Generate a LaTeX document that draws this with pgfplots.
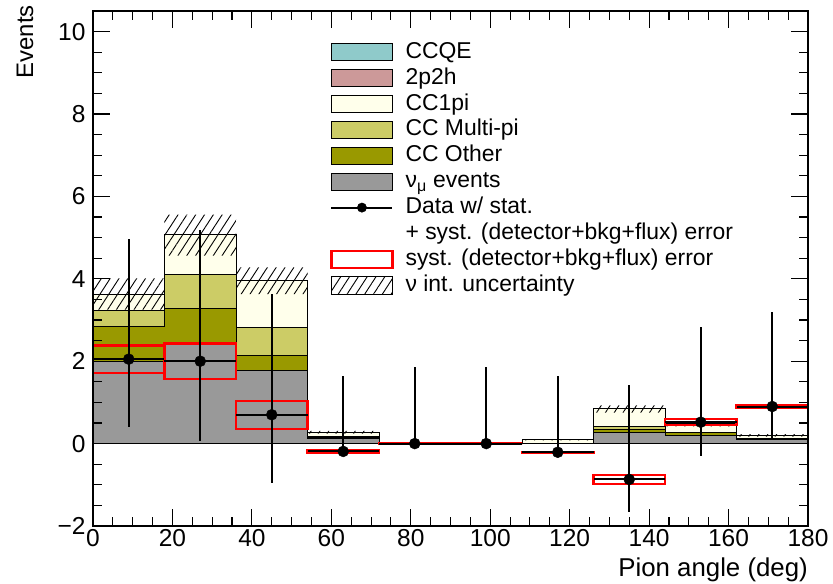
\documentclass[border=0pt]{standalone}
\usepackage{fontspec}
\setmainfont{Liberation Sans}
\usepackage{pgfplots}
\pgfplotsset{compat=1.18}
\usepackage{pgfplotstable}
\usetikzlibrary{patterns.meta}

\definecolor{ccqe}{RGB}{143,202,202}
\definecolor{twoptwoh}{RGB}{204,153,153}
\definecolor{ccpi}{RGB}{255,255,235}
\definecolor{ccmulti}{RGB}{204,204,102}
\definecolor{ccother}{RGB}{153,153,0}
\definecolor{numu}{RGB}{153,153,153}

\tikzset{hatch/.style={pattern={Lines[angle=57,distance=7.4bp,line width=0.9bp]}}}
\pgfplotsset{boxlegend/.style={legend image code/.code={\draw[##1] (0bp,-8.5bp) rectangle (61bp,8.5bp);}}}

% cumulative stack tops, left bin edges (last row repeats the last bin)
\pgfplotstableread{
xl gray ccother ccmulti ccpi
0   2.00 2.84 3.24 3.63
18  2.42 3.27 4.10 5.07
36  1.77 2.14 2.81 3.97
54  0.12 0.15 0.18 0.28
72  0    0    0    0
90  0    0    0    0
108 0.01 0.01 0.01 0.09
126 0.26 0.34 0.42 0.84
144 0.19 0.27 0.27 0.48
162 0.10 0.12 0.13 0.20
180 0.10 0.12 0.13 0.20
}\stack

\pgfplotstableread{
x   y     ex  eyp  eym
9   2.05  9   2.92 1.65
27  2.00  9   3.19 1.94
45  0.70  9   2.93 1.65
63  -0.19 9   1.84 0
81  0     9   1.85 0
99  0     9   1.85 0
117 -0.21 9   1.84 0
135 -0.87 9   2.29 0.80
153 0.52  9   2.30 0.81
171 0.90  9   2.30 0.79
}\data

\begin{document}
\begin{tikzpicture}
\begin{axis}[
  at={(0,0)}, anchor=south west,
  scale only axis, width=715bp, height=515bp,
  xmin=0, xmax=180, ymin=-2, ymax=10.5,
  xtick={0,20,...,180},
  ytick={-2,0,...,10}, yticklabels={−2,0,2,4,6,8,10},
  minor x tick num=3, minor y tick num=3,
  tick align=inside,
  major tick length=17bp, minor tick length=9bp,
  tick style={black, line width=1.1bp},
  axis line style={line width=1.3bp},
  axis on top,
  /pgf/number format/assume math mode=true,
  ticklabel style={font=\fontsize{24.6}{28}\selectfont},
  yticklabel style={xshift=-4bp},
  xlabel={Pion angle (deg)}, ylabel={Events},
  xlabel style={font=\fontsize{25.9}{30}\selectfont, at={(axis description cs:1,-0.0854)}, anchor=east, inner sep=0pt},
  ylabel style={font=\fontsize{24}{28}\selectfont, at={(axis description cs:-0.0951,1.0117)}, anchor=east, inner sep=0pt},
  legend cell align=left,
  legend style={at={(axis description cs:0.3275,0.9456)}, anchor=north west, draw=none, fill=none,
    font=\fontsize{23}{27}\selectfont, row sep=3.9bp, column sep=12bp,
    nodes={inner sep=0pt, text height=17bp, text depth=5bp}},
]
% legend
\addlegendimage{boxlegend, fill=ccqe, draw=black, line width=0.9bp}
\addlegendentry{CCQE}
\addlegendimage{boxlegend, fill=twoptwoh, draw=black, line width=0.9bp}
\addlegendentry{2p2h}
\addlegendimage{boxlegend, fill=ccpi, draw=black, line width=0.9bp}
\addlegendentry{CC1pi}
\addlegendimage{boxlegend, fill=ccmulti, draw=black, line width=0.9bp}
\addlegendentry{CC Multi-pi}
\addlegendimage{boxlegend, fill=ccother, draw=black, line width=0.9bp}
\addlegendentry{CC Other}
\addlegendimage{boxlegend, fill=numu, draw=black, line width=0.9bp}
\addlegendentry{ν\textsubscript{μ} events}
\addlegendimage{legend image code/.code={\draw[black, line width=2bp] (0bp,0bp) -- (61bp,0bp); \fill[black] (30.5bp,0bp) circle (4.7bp);}}
\addlegendentry{Data w/ stat.}
\addlegendimage{empty legend}
\addlegendentry{+ syst. (detector+bkg+flux) error}
\addlegendimage{boxlegend, draw=red, fill=none, line width=2.2bp}
\addlegendentry{syst. (detector+bkg+flux) error}
\addlegendimage{legend image code/.code={\fill[hatch] (0bp,-9bp) rectangle (61bp,9bp);}}
\addlegendentry{ν int. uncertainty}

% stacked histogram (cumulative tops, drawn from top layer down)
\addplot[forget plot, const plot, fill=ccqe, draw=black, line width=1bp] table[x=xl, y=ccpi]{\stack} \closedcycle;
\addplot[forget plot, const plot, fill=twoptwoh, draw=black, line width=1bp] table[x=xl, y=ccpi]{\stack} \closedcycle;
\addplot[forget plot, const plot, fill=ccpi, draw=black, line width=1bp] table[x=xl, y=ccpi]{\stack} \closedcycle;
\addplot[forget plot, const plot, fill=ccmulti, draw=black, line width=1bp] table[x=xl, y=ccmulti]{\stack} \closedcycle;
\addplot[forget plot, const plot, fill=ccother, draw=black, line width=1bp] table[x=xl, y=ccother]{\stack} \closedcycle;
\addplot[forget plot, const plot, fill=numu, draw=black, line width=1bp] table[x=xl, y=gray]{\stack} \closedcycle;

% nu interaction uncertainty (hatched)
\addplot[forget plot, draw=none, hatch, unbounded coords=jump] coordinates {
 (0,3.25) (18,3.25) (18,4.01) (0,4.01) (0,nan)
 (18,4.56) (36,4.56) (36,5.56) (18,5.56) (18,nan)
 (36,3.63) (54,3.63) (54,4.28) (36,4.28) (36,nan)
 (54,0.24) (72,0.24) (72,0.31) (54,0.31) (54,nan)
 (108,0.08) (126,0.08) (126,0.10) (108,0.10) (108,nan)
 (126,0.75) (144,0.75) (144,0.93) (126,0.93) (126,nan)
 (144,0.42) (162,0.42) (162,0.53) (144,0.53) (144,nan)
 (162,0.17) (180,0.17) (180,0.23) (162,0.23)
};

% systematic boxes
\addplot[forget plot, red, line width=2.2bp, line cap=rect, unbounded coords=jump] coordinates {
 (0,1.72) (18,1.72) (18,2.38) (0,2.38) (0,1.72) (0,nan)
 (18,1.57) (36,1.57) (36,2.43) (18,2.43) (18,1.57) (18,nan)
 (36,0.36) (54,0.36) (54,1.03) (36,1.03) (36,0.36) (36,nan)
 (54,-0.22) (72,-0.22) (72,-0.16) (54,-0.16) (54,-0.22) (54,nan)
 (72,0) (90,0) (90,0) (72,0) (72,0) (72,nan)
 (90,0) (108,0) (108,0) (90,0) (90,0) (90,nan)
 (108,-0.22) (126,-0.22) (126,-0.20) (108,-0.20) (108,-0.22) (108,nan)
 (126,-0.98) (144,-0.98) (144,-0.77) (126,-0.77) (126,-0.98) (126,nan)
 (144,0.45) (162,0.45) (162,0.59) (144,0.59) (144,0.45) (144,nan)
 (162,0.87) (180,0.87) (180,0.94) (162,0.94) (162,0.87)
};

% data with stat+syst errors
\addplot[forget plot, only marks, mark=*, mark size=5.5bp, black,
  error bars/.cd, x dir=both, x explicit, y dir=both, y explicit,
  error mark=none, error bar style={line width=2bp, black}]
  table[x=x, y=y, x error=ex, y error plus=eyp, y error minus=eym]{\data};
\end{axis}
\pgfresetboundingbox
\path[use as bounding box] (-93bp,-58bp) rectangle (740bp,526bp);
\end{tikzpicture}
\end{document}
